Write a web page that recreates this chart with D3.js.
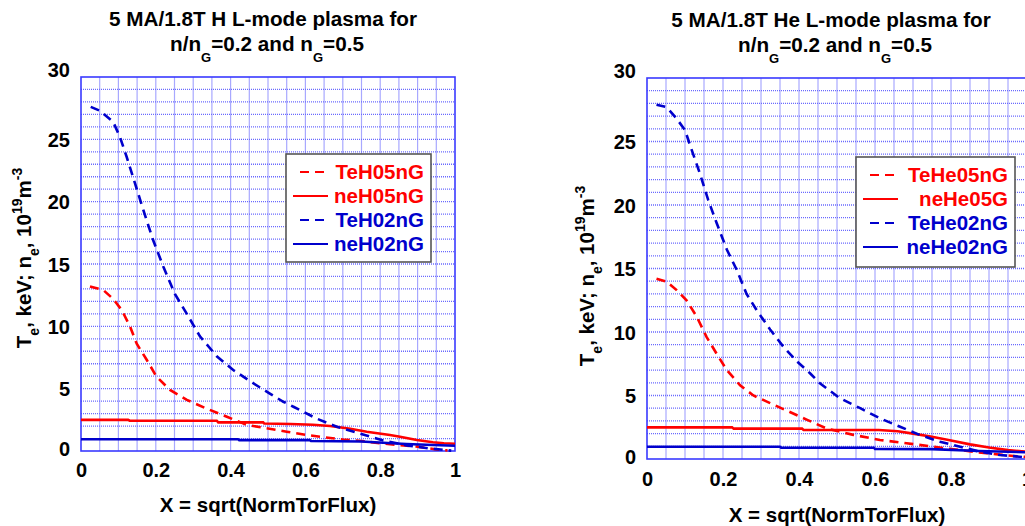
<!DOCTYPE html>
<html>
<head>
<meta charset="utf-8">
<script src="https://cdn.jsdelivr.net/npm/d3@7"></script>
<style>
  body { margin: 0; background: #fff; }
  text { font-family: "Liberation Sans", Arial, sans-serif; font-weight: bold; }
</style>
</head>
<body>
<div class="Aligner"></div>
<script>
// values: [x, value]
var xTicks = [0, 0.2, 0.4, 0.6, 0.8, 1];
var xTickLabels = ["0", "0.2", "0.4", "0.6", "0.8", "1"];
var yTicks = [0, 5, 10, 15, 20, 25, 30];

// H panel
var hTe05 = [[0.024,13.2],[0.06,12.9],[0.086,12.2],[0.109,11.3],[0.131,10.0],[0.149,8.6],[0.176,7.3],[0.202,5.96],[0.238,4.9],[0.283,4.1],[0.336,3.4],[0.39,2.75],[0.443,2.1],[0.5,1.8],[0.55,1.55],[0.6,1.3],[0.65,1.1],[0.7,0.92],[0.75,0.8],[0.8,0.62],[0.85,0.48],[0.9,0.35],[0.95,0.12],[0.98,0.05]];
var hNe05 = [[0,2.5],[0.126,2.5],[0.13,2.43],[0.363,2.43],[0.367,2.3],[0.487,2.3],[0.49,2.2],[0.56,2.17],[0.62,2.1],[0.666,2.0],[0.72,1.78],[0.764,1.55],[0.826,1.28],[0.853,1.15],[0.898,0.88],[0.941,0.7],[0.97,0.62],[1.0,0.58]];
var hTe02 = [[0.026,27.6],[0.05,27.3],[0.086,26.4],[0.104,25.2],[0.122,23.6],[0.144,21.5],[0.167,19.3],[0.193,16.9],[0.22,14.8],[0.251,12.6],[0.283,11.0],[0.318,9.2],[0.363,7.6],[0.407,6.5],[0.452,5.6],[0.505,4.6],[0.541,3.95],[0.568,3.55],[0.63,2.6],[0.684,1.95],[0.746,1.4],[0.808,0.85],[0.871,0.45],[0.933,0.2],[0.99,0.03]];
var hNe02 = [[0,0.94],[0.42,0.94],[0.423,0.87],[0.612,0.87],[0.615,0.8],[0.75,0.76],[0.808,0.66],[0.87,0.56],[0.941,0.48],[1.0,0.42]];
var hNames = ["TeH05nG", "neH05nG", "TeH02nG", "neH02nG"];

// He panel
var heTe05 = [[0.025,14.2],[0.052,13.96],[0.078,13.3],[0.104,12.5],[0.131,11.2],[0.157,9.6],[0.183,8.3],[0.21,7.0],[0.245,5.8],[0.28,5.0],[0.324,4.4],[0.376,3.7],[0.42,3.1],[0.473,2.4],[0.543,1.9],[0.613,1.5],[0.683,1.24],[0.753,0.97],[0.824,0.7],[0.894,0.45],[0.964,0.24],[1.0,0.15]];
var heNe05 = [[0,2.49],[0.224,2.49],[0.228,2.39],[0.408,2.39],[0.412,2.28],[0.61,2.28],[0.66,2.18],[0.7,2.0],[0.75,1.75],[0.8,1.45],[0.85,1.15],[0.9,0.9],[0.95,0.7],[1.0,0.57]];
var heTe02 = [[0.025,27.9],[0.052,27.7],[0.078,26.8],[0.1,25.9],[0.118,24.3],[0.139,22.5],[0.161,20.4],[0.183,18.6],[0.21,16.5],[0.236,14.9],[0.262,13.0],[0.289,11.7],[0.324,10.2],[0.359,8.84],[0.394,7.7],[0.429,6.75],[0.455,5.96],[0.508,4.78],[0.561,4.0],[0.613,3.2],[0.666,2.54],[0.718,1.89],[0.771,1.36],[0.824,0.97],[0.876,0.57],[0.929,0.31],[0.98,0.18],[1.0,0.12]];
var heNe02 = [[0,0.97],[0.35,0.97],[0.353,0.89],[0.597,0.89],[0.6,0.8],[0.75,0.78],[0.873,0.63],[1.0,0.53]];
var heNames = ["TeHe05nG", "neHe05G", "TeHe02nG", "neHe02nG"];

var red = "#ff0000", blue = "#0000cc";

var svg = d3.select(".Aligner")
  .append("svg")
  .attr("width", 1025)
  .attr("height", 526);

function drawPanel(p){
  var x = d3.scaleLinear().domain([0, 1]).range([p.left, p.left + p.w]);
  var y = d3.scaleLinear().domain([0, 30]).range([p.top + p.h, p.top]);
  var g = svg.append("g");

  // grid
  g.selectAll(".vgrid")
    .data(d3.range(1, 20).map(function(i){ return i / 20 }))
    .enter().append("line")
    .attr("x1", function(d){ return x(d) })
    .attr("x2", function(d){ return x(d) })
    .attr("y1", p.top).attr("y2", p.top + p.h)
    .style("stroke", "#a8a8ff")
    .style("stroke-width", 1.2);

  g.selectAll(".hgrid")
    .data(d3.range(1, 30))
    .enter().append("line")
    .attr("x1", p.left).attr("x2", p.left + p.w)
    .attr("y1", function(d){ return y(d) })
    .attr("y2", function(d){ return y(d) })
    .style("stroke", "#6a6aff")
    .style("stroke-width", 1.3)
    .style("stroke-dasharray", "1,1");

  g.append("rect")
    .attr("x", p.left).attr("y", p.top)
    .attr("width", p.w).attr("height", p.h)
    .style("fill", "none")
    .style("stroke", "#3a3aff")
    .style("stroke-width", 1.6);

  // axes (labels only)
  var xAxis = g.append("g")
    .attr("transform", "translate(0," + (p.top + p.h) + ")")
    .call(d3.axisBottom(x).tickValues(xTicks).tickSize(0).tickPadding(p.xPad)
      .tickFormat(function(d, i){ return xTickLabels[i] }));
  xAxis.select(".domain").remove();
  xAxis.selectAll("text").style("font-size", "20px").attr("fill", "#000");

  var yAxis = g.append("g")
    .attr("transform", "translate(" + p.left + ",0)")
    .call(d3.axisLeft(y).tickValues(yTicks).tickSize(0).tickPadding(11));
  yAxis.select(".domain").remove();
  yAxis.selectAll("text").style("font-size", "20px").attr("fill", "#000")
    .attr("dy", function(d){ return d == 30 ? "-0.05em" : (d == 0 ? "0.2em" : "0.35em") });

  // curves
  var line = d3.line()
    .x(function(d){ return x(d[0]) })
    .y(function(d){ return y(d[1]) });

  var series = [
    {data: p.te05, color: red, dash: "9,6"},
    {data: p.ne05, color: red, dash: null},
    {data: p.te02, color: blue, dash: "9,6"},
    {data: p.ne02, color: blue, dash: null}
  ];

  g.selectAll(".curve")
    .data(series)
    .enter().append("path")
    .attr("d", function(d){ return line(d.data) })
    .style("fill", "none")
    .style("stroke", function(d){ return d.color })
    .style("stroke-width", 2.6)
    .style("stroke-dasharray", function(d){ return d.dash });

  // legend
  var lg = p.legend;
  g.append("rect")
    .attr("x", lg.x).attr("y", lg.y)
    .attr("width", lg.w).attr("height", lg.h)
    .style("fill", "#fff")
    .style("stroke", "#555")
    .style("stroke-width", 1.6);

  series.forEach(function(s, i){
    var cy = lg.y + 18 + i * 24;
    g.append("line")
      .attr("x1", s.dash ? lg.dashX : lg.solidX).attr("x2", lg.lineEnd)
      .attr("y1", cy).attr("y2", cy)
      .style("stroke", s.color)
      .style("stroke-width", 2.2)
      .style("stroke-dasharray", s.dash ? "9,6" : null);
    g.append("text")
      .attr("x", lg.textEnd).attr("y", cy + 7)
      .attr("text-anchor", "end")
      .style("font-size", "20.5px")
      .attr("fill", s.color)
      .text(p.names[i]);
  });

  // titles
  g.append("text")
    .attr("x", p.titleX).attr("y", p.titleY)
    .attr("text-anchor", "middle")
    .style("font-size", "20.7px")
    .text(p.title);

  var t2 = g.append("text")
    .attr("x", p.titleX + 4).attr("y", p.titleY + 25)
    .attr("text-anchor", "middle")
    .style("font-size", "20.7px");
  t2.append("tspan").text("n/n");
  t2.append("tspan").attr("dy", 11).style("font-size", "13px").text("G");
  t2.append("tspan").attr("dy", -11).text("=0.2 and n");
  t2.append("tspan").attr("dy", 11).style("font-size", "13px").text("G");
  t2.append("tspan").attr("dy", -11).text("=0.5");

  g.append("text")
    .attr("x", p.left + p.w / 2).attr("y", p.xTitleY)
    .attr("text-anchor", "middle")
    .style("font-size", "20.5px")
    .text("X = sqrt(NormTorFlux)");

  var yt = g.append("text")
    .attr("transform", "translate(" + p.yTitleX + "," + p.yTitleY + ") rotate(-90)")
    .attr("text-anchor", "middle")
    .style("font-size", "20.5px");
  yt.append("tspan").text("T");
  yt.append("tspan").attr("dy", 8).style("font-size", "14px").text("e");
  yt.append("tspan").attr("dy", -8).text(", keV; n");
  yt.append("tspan").attr("dy", 8).style("font-size", "14px").text("e");
  yt.append("tspan").attr("dy", -8).text(", 10");
  yt.append("tspan").attr("dy", -9).style("font-size", "14px").text("19");
  yt.append("tspan").attr("dy", 9).text("m");
  yt.append("tspan").attr("dy", -9).style("font-size", "14px").text("-3");
}

drawPanel({
  left: 81, top: 77, w: 374, h: 374, xPad: 12,
  te05: hTe05, ne05: hNe05, te02: hTe02, ne02: hNe02, names: hNames,
  legend: {x: 286, y: 154, w: 145, h: 108, dashX: 300, solidX: 293, lineEnd: 328, textEnd: 424},
  title: "5 MA/1.8T H L-mode plasma for", titleX: 263, titleY: 26,
  xTitleY: 512, yTitleX: 31, yTitleY: 258
});

drawPanel({
  left: 647, top: 78, w: 380, h: 381, xPad: 13,
  te05: heTe05, ne05: heNe05, te02: heTe02, ne02: heNe02, names: heNames,
  legend: {x: 856, y: 157, w: 159, h: 110, dashX: 870, solidX: 863, lineEnd: 898, textEnd: 1008},
  title: "5 MA/1.8T He L-mode plasma for", titleX: 831, titleY: 27,
  xTitleY: 522, yTitleX: 594, yTitleY: 276
});
</script>
</body>
</html>
